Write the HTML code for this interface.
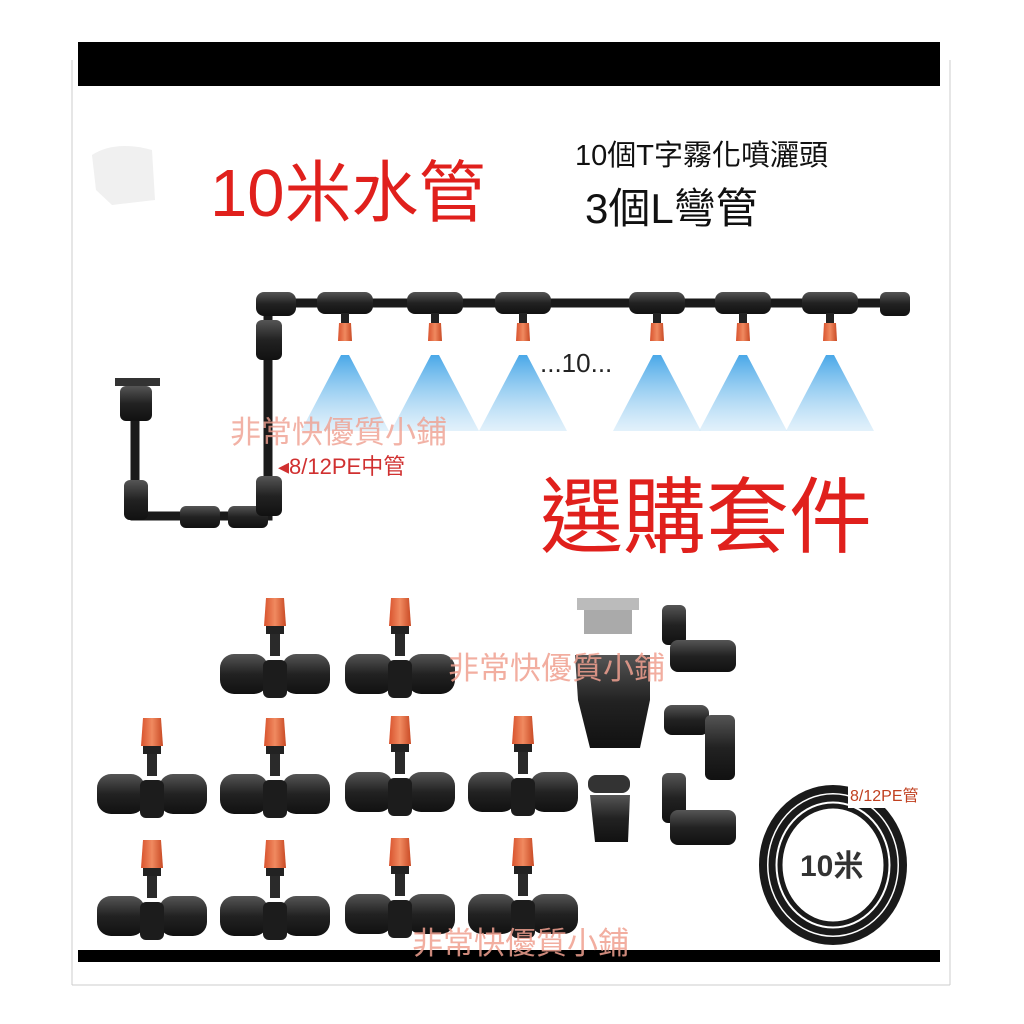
<!DOCTYPE html>
<html><head><meta charset="utf-8"><style>
html,body{margin:0;padding:0;background:#fff;}
body{width:1024px;height:1024px;position:relative;overflow:hidden;font-family:"Liberation Sans","Noto Sans CJK TC",sans-serif;}
.t{position:absolute;white-space:nowrap;line-height:1;}
</style></head><body>
<svg width="1024" height="1024" style="position:absolute;left:0;top:0">
<defs>
<linearGradient id="bg" x1="0" y1="0" x2="0" y2="1"><stop offset="0" stop-color="#555"/><stop offset=".5" stop-color="#222"/><stop offset="1" stop-color="#111"/></linearGradient>
<linearGradient id="og" x1="0" y1="0" x2="1" y2="0"><stop offset="0" stop-color="#d9532e"/><stop offset=".5" stop-color="#f08a60"/><stop offset="1" stop-color="#c94a25"/></linearGradient>
<linearGradient id="sp" x1="0" y1="0" x2="0" y2="1"><stop offset="0" stop-color="#4aa8e8"/><stop offset="1" stop-color="#cfe8f8" stop-opacity=".6"/></linearGradient>
<g id="tee">
<path d="M-9,0 L9,0 L11,28 L-11,28Z" fill="url(#og)"/>
<rect x="-9" y="28" width="18" height="8" fill="#222"/>
<rect x="-5" y="36" width="10" height="22" fill="#2a2a2a"/>
<rect x="-55" y="56" width="48" height="40" rx="14" fill="url(#bg)"/>
<rect x="7" y="56" width="48" height="40" rx="14" fill="url(#bg)"/>
<rect x="-12" y="62" width="24" height="38" rx="6" fill="#1c1c1c"/>
</g>
<g id="stee">
<rect x="-28" y="-11" width="56" height="22" rx="8" fill="url(#bg)"/>
<rect x="-4" y="10" width="8" height="10" fill="#222"/>
<path d="M-6,20 L6,20 L7,38 L-7,38Z" fill="url(#og)"/>
<path d="M-4,52 L-44,128 L44,128 L4,52Z" fill="url(#sp)"/>
</g>
</defs>
<rect x="78" y="42" width="862" height="44" fill="#000"/>
<rect x="78" y="950" width="862" height="12" fill="#000"/>
<line x1="72" y1="60" x2="72" y2="985" stroke="#ccc"/>
<line x1="950" y1="60" x2="950" y2="985" stroke="#ccc"/>
<line x1="72" y1="985" x2="950" y2="985" stroke="#ccc"/>
<path d="M92,155 Q115,140 152,150 L155,200 L112,205 L96,190Z" fill="#f0f0f0"/>
<g stroke="#1a1a1a" stroke-width="9" fill="none">
<path d="M135,400 L135,516 L268,516 L268,303 L905,303"/>
</g>
<rect x="115" y="378" width="45" height="8" fill="#333"/>
<rect x="120" y="386" width="32" height="35" rx="6" fill="url(#bg)"/>
<rect x="124" y="480" width="24" height="40" rx="6" fill="url(#bg)"/>
<rect x="180" y="506" width="40" height="22" rx="6" fill="url(#bg)"/>
<rect x="228" y="506" width="40" height="22" rx="6" fill="url(#bg)"/>
<rect x="256" y="476" width="26" height="40" rx="6" fill="url(#bg)"/>
<rect x="256" y="320" width="26" height="40" rx="6" fill="url(#bg)"/>
<rect x="256" y="292" width="40" height="24" rx="8" fill="url(#bg)"/>
<rect x="880" y="292" width="30" height="24" rx="6" fill="url(#bg)"/>
<use href="#stee" x="345" y="303"/><use href="#stee" x="435" y="303"/><use href="#stee" x="523" y="303"/>
<use href="#stee" x="657" y="303"/><use href="#stee" x="743" y="303"/><use href="#stee" x="830" y="303"/>
<use href="#tee" x="275" y="598"/><use href="#tee" x="400" y="598"/>
<use href="#tee" x="152" y="718"/><use href="#tee" x="275" y="718"/><use href="#tee" x="400" y="716"/><use href="#tee" x="523" y="716"/>
<use href="#tee" x="152" y="840"/><use href="#tee" x="275" y="840"/><use href="#tee" x="400" y="838"/><use href="#tee" x="523" y="838"/>
<rect x="577" y="598" width="62" height="12" fill="#bbb"/>
<rect x="584" y="610" width="48" height="24" fill="#aaa"/>
<path d="M575,655 L650,655 L650,700 L640,748 L590,748 L578,700Z" fill="url(#bg)"/>
<rect x="588" y="775" width="42" height="18" rx="8" fill="#333"/>
<path d="M590,795 L630,795 L628,842 L595,842Z" fill="url(#bg)"/>
<g fill="url(#bg)">
<rect x="662" y="605" width="24" height="40" rx="6"/><rect x="670" y="640" width="66" height="32" rx="8"/>
<rect x="664" y="705" width="45" height="30" rx="8"/><rect x="705" y="715" width="30" height="65" rx="6"/>
<rect x="662" y="773" width="24" height="50" rx="6"/><rect x="670" y="810" width="66" height="35" rx="8"/>
</g>
<g fill="none" stroke="#1a1a1a">
<ellipse cx="833" cy="865" rx="70" ry="76" stroke-width="8"/>
<ellipse cx="833" cy="865" rx="61" ry="67" stroke-width="7"/>
<ellipse cx="833" cy="865" rx="53" ry="59" stroke-width="5"/>
</g>
<path d="M848,786 L930,786 L930,808 L848,808Z" fill="#fff"/>
</svg>
<div class="t" style="left:210px;top:160px;font-size:67px;color:#e0201c;">10米水管</div>
<div class="t" style="left:575px;top:142px;font-size:29px;color:#111;">10個T字霧化噴灑頭</div>
<div class="t" style="left:585px;top:188px;font-size:42px;color:#111;">3個L彎管</div>
<div class="t" style="left:540px;top:350px;font-size:26px;color:#222;">...10...</div>
<div class="t" style="left:230px;top:417px;font-size:31px;color:#f0a090;opacity:.8;">非常快優質小鋪</div>
<div class="t" style="left:278px;top:456px;font-size:22px;color:#d03030;">◂8/12PE中管</div>
<div class="t" style="left:540px;top:476px;font-size:83px;color:#e0201c;">選購套件</div>
<div class="t" style="left:448px;top:653px;font-size:31px;color:#f0a090;opacity:.85;">非常快優質小鋪</div>
<div class="t" style="left:412px;top:928px;font-size:31px;color:#f0a090;opacity:.85;">非常快優質小鋪</div>
<div class="t" style="left:850px;top:789px;font-size:16px;color:#c04020;">8/12PE管</div>
<div class="t" style="left:800px;top:852px;font-size:30px;color:#333;font-weight:bold;">10米</div>
</body></html>
